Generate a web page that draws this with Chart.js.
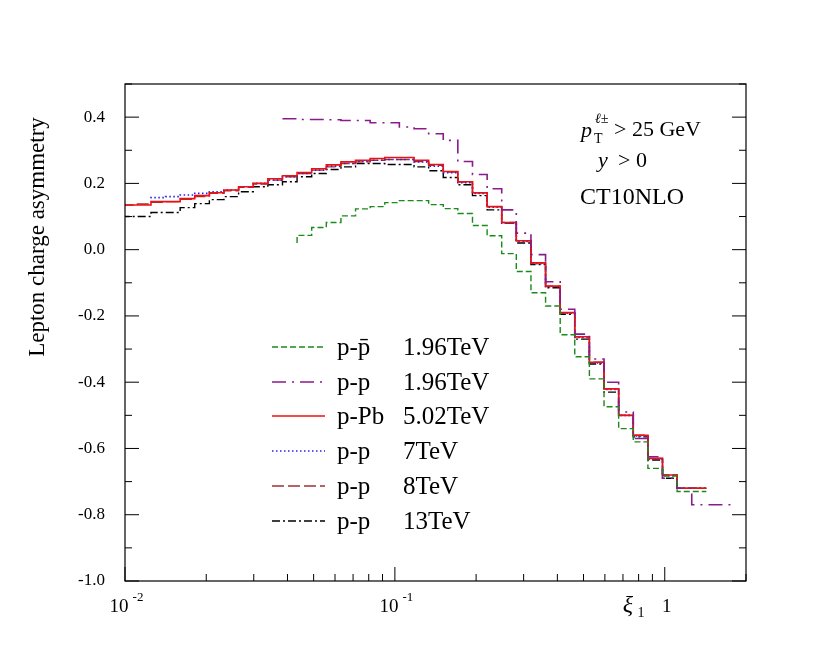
<!DOCTYPE html>
<html>
<head>
<meta charset="utf-8">
<script src="https://cdn.jsdelivr.net/npm/chart.js@4/dist/chart.umd.min.js"></script>
<style>
  html, body { margin: 0; padding: 0; background: #fff; }
  #wrap { width: 831px; height: 665px; position: relative; }
</style>
</head>
<body>
<div id="wrap"><canvas id="c" width="831" height="665"></canvas></div>
<script>
// bin edges (xi_1), shared by all curves; edges[i] is the left edge of bin i
const edges = [0.00972, 0.01101, 0.01248, 0.01413, 0.01601, 0.01813, 0.02054, 0.02327, 0.02636, 0.02987,
  0.03383, 0.03832, 0.04341, 0.04918, 0.05571, 0.06312, 0.07149, 0.08099, 0.09175, 0.1039,
  0.1178, 0.1334, 0.1511, 0.1711, 0.1939, 0.2197, 0.2488, 0.2818, 0.3193, 0.3617,
  0.4098, 0.4640, 0.5257, 0.5956, 0.6748, 0.7644, 0.8660, 0.9810, 1.111, 1.259,
  1.426, 1.615, 1.829, 2.074];

// bin values per curve, with the index of the first bin in edges
const ppbarStart = 12;
const ppbar196 = [0.02, 0.043, 0.067, 0.082, 0.102, 0.123, 0.13, 0.142, 0.148, 0.148,
  0.136, 0.124, 0.109, 0.073, 0.042, -0.012, -0.066, -0.13, -0.17, -0.257,
  -0.323, -0.39, -0.474, -0.54, -0.58, -0.66, -0.683, -0.73];

const pp196Start = 11;
const pp196 = [0.395, 0.395, 0.393, 0.393, 0.392, 0.39, 0.39, 0.383, 0.383, 0.37,
  0.365, 0.35, 0.33, 0.266, 0.227, 0.184, 0.12, 0.05, -0.015, -0.097,
  -0.18, -0.255, -0.33, -0.40, -0.49, -0.57, -0.625, -0.69, -0.72, -0.77, -0.77];

const pPbStart = 0;
const pPb502 = [0.135, 0.135, 0.135, 0.145, 0.145, 0.154, 0.163, 0.172, 0.18, 0.19,
  0.2, 0.214, 0.223, 0.233, 0.244, 0.256, 0.265, 0.27, 0.275, 0.278,
  0.278, 0.27, 0.257, 0.236, 0.205, 0.172, 0.13, 0.082, 0.027, -0.04,
  -0.11, -0.19, -0.263, -0.34, -0.42, -0.50, -0.56, -0.63, -0.68, -0.72];

const pp7Start = 2;
const pp7 = [0.155, 0.157, 0.16, 0.165, 0.17, 0.175, 0.18, 0.19, 0.2, 0.21,
  0.22, 0.23, 0.24, 0.252, 0.26, 0.266, 0.27, 0.272, 0.272, 0.265,
  0.252, 0.232, 0.202, 0.17, 0.128, 0.08, 0.025, -0.042, -0.112, -0.192,
  -0.265, -0.342, -0.422, -0.5, -0.562, -0.632, -0.682, -0.72];

const pp8Start = 0;
const pp8 = [0.135, 0.135, 0.138, 0.143, 0.145, 0.152, 0.16, 0.17, 0.178, 0.188,
  0.198, 0.21, 0.22, 0.23, 0.24, 0.25, 0.26, 0.265, 0.27, 0.272,
  0.272, 0.266, 0.255, 0.234, 0.204, 0.172, 0.13, 0.082, 0.027, -0.04,
  -0.11, -0.19, -0.263, -0.34, -0.42, -0.5, -0.56, -0.63, -0.68, -0.72];

const pp13Start = 0;
const pp13 = [0.1, 0.1, 0.1, 0.112, 0.112, 0.127, 0.139, 0.151, 0.16, 0.175,
  0.19, 0.196, 0.205, 0.22, 0.23, 0.242, 0.25, 0.26, 0.26, 0.257,
  0.257, 0.25, 0.238, 0.218, 0.196, 0.163, 0.12, 0.08, 0.02, -0.045,
  -0.115, -0.195, -0.27, -0.345, -0.43, -0.5, -0.565, -0.635, -0.69, -0.72];

const yTicks = [-1.0, -0.8, -0.6, -0.4, -0.2, 0.0, 0.2, 0.4];

function steps(start, vals) {
  const pts = vals.map((v, i) => ({ x: edges[start + i], y: v }));
  pts.push({ x: edges[start + vals.length], y: vals[vals.length - 1] });
  return pts;
}

const series = [
  { name: 'p-p̄', e: '1.96TeV', start: ppbarStart, vals: ppbar196, color: '#1a8a1a', dash: [6, 3], w: 1.4 },
  { name: 'p-p', e: '1.96TeV', start: pp196Start, vals: pp196, color: '#8b1a8b', dash: [14, 6, 2, 6], w: 1.6 },
  { name: 'p-Pb', e: '5.02TeV', start: pPbStart, vals: pPb502, color: '#ee1111', dash: [], w: 1.6 },
  { name: 'p-p', e: '7TeV', start: pp7Start, vals: pp7, color: '#2222ee', dash: [1.5, 2.5], w: 1.6 },
  { name: 'p-p', e: '8TeV', start: pp8Start, vals: pp8, color: '#a03030', dash: [12, 4], w: 1.4 },
  { name: 'p-p', e: '13TeV', start: pp13Start, vals: pp13, color: '#000000', dash: [8, 3, 2, 3], w: 1.4 },
];

const FONT = '"Liberation Serif", "DejaVu Serif", serif';

const frame = {
  id: 'frame',
  afterDraw(chart) {
    const { ctx, chartArea: a, scales: { x, y } } = chart;
    ctx.save();
    ctx.strokeStyle = '#000';
    ctx.lineWidth = 1.2;
    ctx.setLineDash([]);
    ctx.strokeRect(a.left, a.top, a.right - a.left, a.bottom - a.top);
    ctx.lineWidth = 1;
    // y ticks, major every 0.2, minor every 0.1, both sides
    for (let i = 0; i <= 15; i++) {
      const v = -1.0 + i * 0.1;
      const py = y.getPixelForValue(v);
      const len = i % 2 === 0 ? 14 : 7;
      ctx.beginPath();
      ctx.moveTo(a.left, py); ctx.lineTo(a.left + len, py);
      ctx.moveTo(a.right, py); ctx.lineTo(a.right - len, py);
      ctx.stroke();
    }
    // x ticks, decades and minors along the bottom
    [0.01, 0.1, 1].forEach(d => {
      for (let m = 1; m <= 9; m++) {
        const v = d * m;
        if (v > x.max) break;
        const px = x.getPixelForValue(v);
        const len = m === 1 ? 14 : 7;
        ctx.beginPath();
        ctx.moveTo(px, a.bottom); ctx.lineTo(px, a.bottom - len);
        ctx.stroke();
      }
    });
    ctx.fillStyle = '#000';
    ctx.font = '19px ' + FONT;
    ctx.textAlign = 'center';
    ctx.textBaseline = 'middle';
    ctx.fillText('10', x.getPixelForValue(0.01) - 6, 607);
    ctx.fillText('10', x.getPixelForValue(0.1) - 6, 607);
    ctx.fillText('1', x.getPixelForValue(1) + 2, 607);
    ctx.font = '13px ' + FONT;
    ctx.fillText('-2', x.getPixelForValue(0.01) + 13, 598);
    ctx.fillText('-1', x.getPixelForValue(0.1) + 13, 598);
    ctx.font = 'italic 24px ' + FONT;
    ctx.fillText('ξ', 628, 606);
    ctx.font = '14px ' + FONT;
    ctx.fillText('1', 641, 613);

    // y axis title
    ctx.save();
    ctx.translate(38, 237);
    ctx.rotate(-Math.PI / 2);
    ctx.font = '23px ' + FONT;
    ctx.fillText('Lepton charge asymmetry', 0, 0);
    ctx.restore();

    // annotations
    ctx.textAlign = 'left';
    ctx.font = 'italic 22px ' + FONT;
    ctx.fillText('p', 581, 131);
    ctx.font = '14px ' + FONT;
    ctx.fillText('T', 594, 139);
    ctx.font = 'italic 14px ' + FONT;
    ctx.fillText('ℓ±', 595, 119);
    ctx.font = '22px ' + FONT;
    ctx.fillText('> 25 GeV', 614, 130);
    ctx.font = 'italic 22px ' + FONT;
    ctx.fillText('y', 598, 161);
    ctx.font = '22px ' + FONT;
    ctx.fillText('> 0', 618, 161);
    ctx.font = '24px ' + FONT;
    ctx.fillText('CT10NLO', 580, 198);

    // legend
    const rows = [347, 382, 416, 451, 486, 521];
    series.forEach((s, i) => {
      const ry = rows[i];
      ctx.strokeStyle = s.color;
      ctx.lineWidth = s.w;
      ctx.setLineDash(s.dash);
      ctx.beginPath();
      ctx.moveTo(272, ry); ctx.lineTo(325, ry);
      ctx.stroke();
      ctx.setLineDash([]);
      ctx.fillStyle = '#000';
      ctx.font = '25px ' + FONT;
      ctx.fillText(s.name, 337, ry + 1);
      ctx.fillText(s.e, 403, ry + 1);
    });
    ctx.restore();
  }
};

new Chart(document.getElementById('c'), {
  type: 'line',
  data: {
    datasets: series.map(s => ({
      label: s.name + ' ' + s.e,
      data: steps(s.start, s.vals),
      stepped: 'after',
      borderColor: s.color,
      borderWidth: s.w,
      borderDash: s.dash,
      pointRadius: 0,
      fill: false,
    })),
  },
  options: {
    responsive: false, animation: false,
    layout: { padding: { left: 0, top: 84, right: 85, bottom: 0 } },
    plugins: { legend: { display: false }, tooltip: { enabled: false } },
    scales: {
      x: {
        type: 'logarithmic', min: 0.01, max: 2.0,
        grid: { display: false }, border: { display: false },
        ticks: { display: false },
        afterFit: s => { s.height = 84; },
      },
      y: {
        min: -1.0, max: 0.5,
        grid: { display: false }, border: { display: false },
        afterBuildTicks: s => { s.ticks = yTicks.map(v => ({ value: v })); },
        ticks: {
          color: '#000', padding: 12,
          font: { family: FONT, size: 17 },
          callback: v => v.toFixed(1),
        },
        afterFit: s => { s.width = 125; },
      },
    },
  },
  plugins: [frame],
});
</script>
</body>
</html>
